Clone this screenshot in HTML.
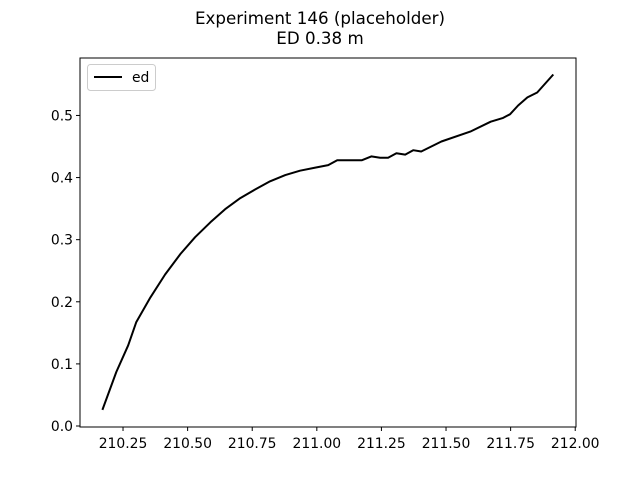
<!DOCTYPE html>
<html><head><meta charset="utf-8"><style>
body{margin:0;background:#fff}
svg{display:block;font-family:"DejaVu Sans","Liberation Sans",sans-serif}
</style></head><body>
<svg id="chart" width="640" height="480">
<text x="320" y="24" text-anchor="middle" font-size="16.7">Experiment 146 (placeholder)</text>
<text x="320" y="44" text-anchor="middle" font-size="16.7">ED 0.38 m</text>
<g id="ticks"></g>
<path id="line" fill="none" stroke="#000" stroke-width="2" stroke-linejoin="round"/>
<rect x="80" y="58" width="496" height="369" fill="none" stroke="#000" stroke-width="1"/>
<g>
<rect x="87.5" y="64.5" width="68" height="26" rx="3" fill="#fff" stroke="#ccc"/>
<line x1="94" y1="77" x2="122" y2="77" stroke="#000" stroke-width="2"/>
<text x="132" y="82" font-size="13.9">ed</text>
</g>
</svg>
<script>
const xs=[210.170,210.224,210.270,210.301,210.356,210.413,210.472,210.529,210.588,210.645,210.704,210.762,210.819,210.878,210.935,210.994,211.044,211.079,211.129,211.175,211.211,211.245,211.276,211.308,211.342,211.373,211.404,211.482,211.594,211.673,211.721,211.748,211.779,211.815,211.853,211.915];
const ys=[0.026,0.087,0.130,0.167,0.207,0.244,0.277,0.304,0.328,0.349,0.367,0.381,0.394,0.404,0.411,0.416,0.420,0.428,0.428,0.428,0.434,0.432,0.432,0.439,0.437,0.444,0.442,0.458,0.474,0.490,0.496,0.502,0.516,0.529,0.537,0.566];
const xTicks=[210.25,210.5,210.75,211.0,211.25,211.5,211.75,212.0];
const xTickLabels=["210.25","210.50","210.75","211.00","211.25","211.50","211.75","212.00"];
const yTicks=[0,0.1,0.2,0.3,0.4,0.5];
const yTickLabels=["0.0","0.1","0.2","0.3","0.4","0.5"];
const X0=80,X1=576,Y0=427,Y1=58,xmin=210.0835,xmax=212.0030,ymin=-0.0016,ymax=0.5925;
const sx=v=>X0+(v-xmin)/(xmax-xmin)*(X1-X0);
const sy=v=>Y0-(v-ymin)/(ymax-ymin)*(Y0-Y1);
const NS="http://www.w3.org/2000/svg";
const g=document.getElementById('ticks');
function mk(t,a){const e=document.createElementNS(NS,t);for(const k in a)e.setAttribute(k,a[k]);g.appendChild(e);return e;}
xTicks.forEach((v,i)=>{const x=sx(v);
const l=mk('line',{x1:x,x2:x,y1:Y0,y2:Y0+4,stroke:'#000'});


const t=mk('text',{x:x,y:Y0+21,'text-anchor':'middle','font-size':13.9});t.textContent=xTickLabels[i];

});
yTicks.forEach((v,i)=>{const y=sy(v);
const l=mk('line',{x1:X0-4,x2:X0,y1:y,y2:y,stroke:'#000'});


const t=mk('text',{x:X0-7,y:y+5,'text-anchor':'end','font-size':13.9});t.textContent=yTickLabels[i];

});
document.getElementById('line').setAttribute('d',xs.map((v,i)=>(i?'L':'M')+sx(v).toFixed(1)+','+sy(ys[i]).toFixed(1)).join(''));
</script>
</body></html>
